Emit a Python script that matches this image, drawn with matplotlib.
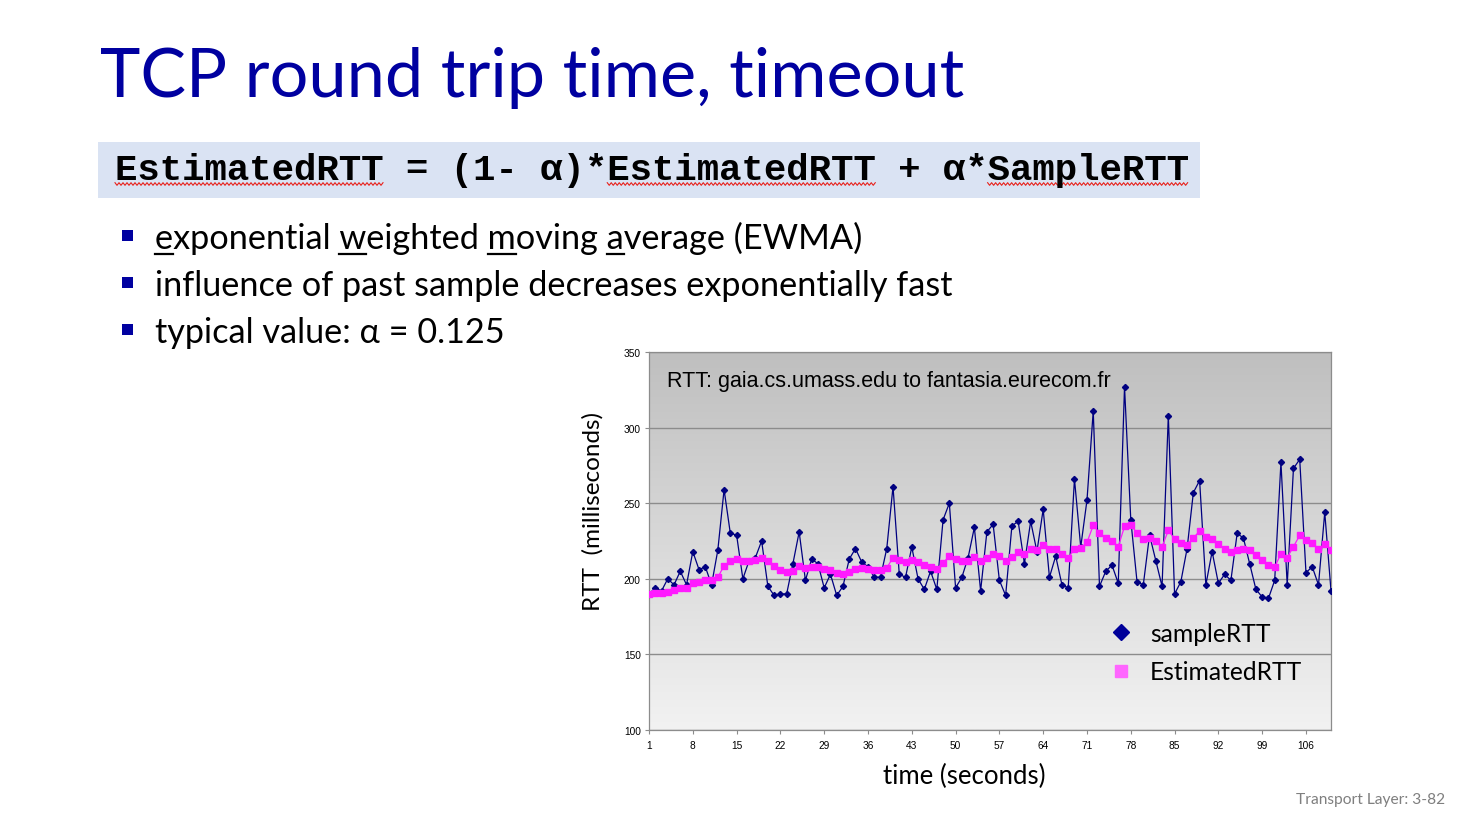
import numpy as np
import matplotlib
matplotlib.use('Agg')
import matplotlib.pyplot as plt
from matplotlib.lines import Line2D
from matplotlib.patches import Rectangle
from matplotlib.colors import LinearSegmentedColormap

# ---------------- data ----------------
time_s = list(range(1, 111))
sample_rtt = [190, 194, 192, 200, 196, 205, 196, 218, 206, 208,
              196, 219, 259, 230, 229, 200, 212, 214, 225, 195,
              189, 190, 190, 210, 231, 199, 213, 210, 194, 203,
              189, 195, 213, 220, 211, 208, 201, 201, 220, 261,
              203, 201, 221, 200, 193, 205, 193, 239, 250, 194,
              201, 214, 234, 192, 231, 236, 199, 189, 235, 238,
              210, 238, 218, 246, 201, 215, 196, 194, 266, 221,
              252, 311, 195, 205, 209, 197, 327, 239, 198, 196,
              229, 212, 195, 308, 190, 198, 220, 257, 265, 196,
              218, 197, 203, 199, 230, 227, 210, 193, 188, 187,
              199, 277, 196, 273, 279, 204, 208, 196, 244, 192]
estimated_rtt = [190, 190.3, 190.5, 191, 192.3, 193.6, 194.1, 197, 198, 199.1,
                 199.4, 201, 208.6, 211.6, 213.4, 211.8, 212, 212.4, 213.8, 211.6,
                 208.6, 206.1, 204.2, 205, 208.3, 207.2, 208.1, 207.9, 206.4, 205.7,
                 203.9, 202.9, 204.4, 206.4, 207.2, 206.8, 206, 205.7, 207.2, 214,
                 212.7, 211.2, 212.3, 211.2, 208.8, 208.1, 206.4, 210.5, 215.1, 212.9,
                 211.6, 211.6, 214.5, 211.8, 214, 216.7, 215.1, 211.6, 214.3, 217.5,
                 216.2, 219.5, 218.9, 222.6, 219.7, 219.5, 216.4, 213.6, 220, 220.4,
                 224.1, 235.3, 230.3, 227, 224.8, 221.3, 234.6, 235.3, 230.5, 226.3,
                 226.8, 225, 221.3, 232, 226.5, 223.5, 222.6, 227, 231.6, 227.4,
                 226.3, 222.8, 220, 217.5, 219.3, 220, 218.9, 215.6, 212.3, 209,
                 207.7, 216.7, 214, 221.3, 228.7, 225.7, 223.5, 220, 223, 219.3]
x_ticks = list(range(1, 107, 7))
y_ticks = [100, 150, 200, 250, 300, 350]

title = 'TCP round trip time, timeout'
formula = 'EstimatedRTT = (1- α)*EstimatedRTT + α*SampleRTT'
bullets = ['exponential weighted moving average (EWMA)',
           'influence of past sample decreases exponentially fast',
           'typical value: α = 0.125']
chart_note = 'RTT: gaia.cs.umass.edu to fantasia.eurecom.fr'
footer = 'Transport Layer: 3-82'

# ---------------- figure ----------------
W, H = 1476, 828
fig = plt.figure(figsize=(W / 100, H / 100), dpi=100)
fig.patch.set_facecolor('white')
R = fig.canvas.get_renderer()


def fx(px):
    return px / W


def fy(py):
    return 1 - py / H


def fit(t, target, use_height=False):
    bb = t.get_window_extent(R)
    w = bb.height if use_height else bb.width
    t.set_fontsize(t.get_fontsize() * target / w)


SANS = ['Lato', 'DejaVu Sans']
BLUE = '#0000A0'

# title
t = fig.text(fx(100), fy(97), title, fontsize=46, color=BLUE, family=SANS,
             va='baseline', ha='left')
fit(t, 862)

# formula box
fig.patches.append(Rectangle((fx(98), fy(199)), fx(1200) - fx(98), fy(143) - fy(199),
                             transform=fig.transFigure, facecolor='#DAE3F3',
                             edgecolor='none', zorder=0))
ft = fig.text(fx(115), fy(180), formula, fontsize=27,
              family=['Liberation Mono', 'DejaVu Sans Mono'], weight='bold',
              va='baseline', ha='left', color='black')
fit(ft, 1077)
bb = ft.get_window_extent(R)
adv = bb.width / len(formula)
for a, b in [(0, 12), (22, 34), (39, 48)]:
    x0 = bb.x0 + a * adv
    x1 = bb.x0 + b * adv
    xs = np.arange(x0, x1 + 0.1, 2.0)
    ys = np.array([185.0 + (1.3 if k % 2 else -1.3) for k in range(len(xs))])
    fig.add_artist(Line2D(xs / W, 1 - ys / H, transform=fig.transFigure,
                          color='#E8201A', lw=0.8))

# bullets
bullet_y = [249, 296, 343]
bullet_sq = [236, 283, 330]
for txt, yb, ys in zip(bullets, bullet_y, bullet_sq):
    fig.patches.append(Rectangle((fx(122), fy(ys + 5.5)), 11 / W, 11 / H,
                                 transform=fig.transFigure, facecolor=BLUE,
                                 edgecolor='none'))
    fig.text(fx(155), fy(yb), txt, fontsize=23, family=SANS, color='black',
             va='baseline', ha='left')

bts = [tt for tt in fig.texts if tt.get_text() in bullets]
w0 = bts[0].get_window_extent(R).width
scale = 710 / w0
for tt in bts:
    tt.set_fontsize(tt.get_fontsize() * scale)

# underlines in first bullet (e, w, m, a)
b0 = bts[0]
text0 = bullets[0]
fs0 = b0.get_fontsize()


def width_of(s):
    tmp = fig.text(0, 0, s, fontsize=fs0, family=SANS)
    w = tmp.get_window_extent(R).width
    tmp.remove()
    return w


x_start = b0.get_window_extent(R).x0
for idx in [0, text0.index('weighted'), text0.index('moving'), text0.index('average')]:
    ch = text0[idx]
    w_ch = width_of(ch)
    xa = x_start + width_of(text0[:idx + 1]) - w_ch
    fig.add_artist(Line2D([xa / W, (xa + w_ch) / W], [fy(255), fy(255)],
                          transform=fig.transFigure, color='black', lw=1.6))

# ---------------- chart ----------------
ax = fig.add_axes([fx(649), fy(731), fx(1331) - fx(649), fy(353) - fy(731)])
cmap = LinearSegmentedColormap.from_list('g', ['#BFBFBF', '#F2F2F2'])
ax.imshow(np.linspace(0, 1, 256).reshape(-1, 1), cmap=cmap, aspect='auto',
          extent=(0, 1, 0, 1), transform=ax.transAxes, zorder=0)

ax.plot(time_s, sample_rtt, color='#000080', lw=0.9, marker='D', ms=3.1,
        mfc='#000080', mec='#000080', zorder=3)
ax.plot(time_s, estimated_rtt, color='#FF1AFF', lw=0.9, marker='s', ms=4.6,
        mfc='#FF1AFF', mec='#FF1AFF', zorder=4)

ax.set_xlim(1, 110)
ax.set_ylim(100, 350)
ax.set_xticks(x_ticks)
ax.set_xticklabels([str(v) for v in x_ticks])
ax.set_yticks(y_ticks)
ax.set_yticklabels([str(v) for v in y_ticks])
ax.yaxis.grid(True, color='#8C8C8C', lw=1.0)
ax.set_axisbelow(True)
for s in ax.spines.values():
    s.set_color('#8C8C8C')
    s.set_linewidth(0.9)
ax.tick_params(axis='both', labelsize=7.3, length=3, color='#8C8C8C',
               direction='out', width=0.8)
ax.tick_params(axis='x', pad=4.5)
ax.tick_params(axis='y', pad=3)
for lab in ax.get_xticklabels() + ax.get_yticklabels():
    lab.set_family(['Liberation Sans', 'DejaVu Sans'])

yl = fig.text(fx(593), fy(512), 'RTT  (milliseconds)', rotation=90,
              fontsize=16, family=SANS, ha='center', va='center')
fit(yl, 200, use_height=True)
xl = fig.text(fx(964), fy(776), 'time (seconds)', fontsize=17, family=SANS,
              ha='center', va='center')
fit(xl, 162)

nt = fig.text(fx(667), fy(381), chart_note, fontsize=14,
              family=['Liberation Sans', 'DejaVu Sans'], ha='left', va='center')
fit(nt, 448)

h1 = Line2D([], [], ls='none', marker='D', ms=8.0, color='#000099',
            label='sampleRTT')
h2 = Line2D([], [], ls='none', marker='s', ms=8.2, color='#FF66FF',
            label='EstimatedRTT')
leg = ax.legend(handles=[h1, h2], loc='upper left',
                bbox_to_anchor=(fx(1108), fy(623)),
                bbox_transform=fig.transFigure, frameon=False,
                prop={'family': SANS, 'size': 17.7}, borderpad=0,
                borderaxespad=0, handlelength=1.05, handletextpad=0.66,
                labelspacing=0.62)

fig.text(fx(1445), fy(800), footer, fontsize=11.2, family=SANS,
         color='#7F7F7F', ha='right', va='center')

fig.savefig('out.png', dpi=100, facecolor='white')
